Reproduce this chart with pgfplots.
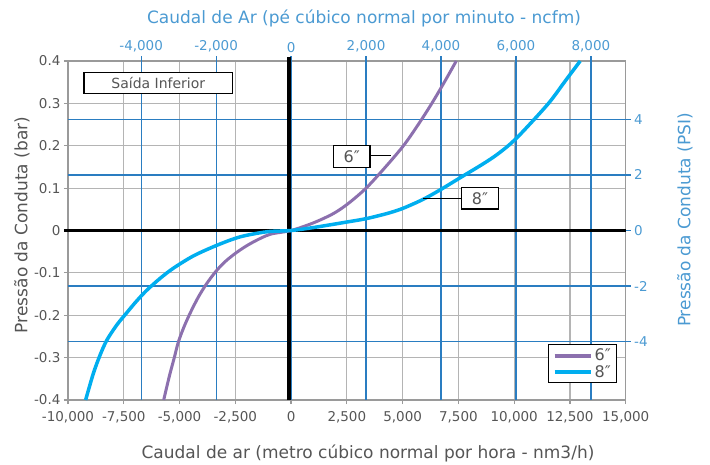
\documentclass[border=0pt]{standalone}
\usepackage{fontspec}
\setmainfont{DejaVu Sans}
\usepackage{pgfplots}
\pgfplotsset{compat=1.18}
\definecolor{gridgray}{HTML}{B4B4B4}
\definecolor{framegray}{HTML}{9A9A9A}
\definecolor{gridblue}{HTML}{2A7DC1}
\definecolor{lblblue}{HTML}{4B9AD2}
\definecolor{sixc}{HTML}{8C70AE}
\definecolor{eightc}{HTML}{00AEEF}
\definecolor{txtgray}{HTML}{555555}
\pgfplotsset{
  common/.style={scale only axis, width=557.7pt, height=339pt, at={(0,0)}, anchor=south west,
    /pgf/number format/assume math mode=true, scaled x ticks=false, scaled y ticks=false},
}
\newcommand{\tfont}{\fontsize{13.5}{15}\selectfont}
\newcommand{\lfont}{\fontsize{17}{19}\selectfont}
\begin{document}
\begin{tikzpicture}[x=1pt,y=1pt]
\useasboundingbox (-68,-64) rectangle (642,400);
% main axis: gray grid and frame
\begin{axis}[common,
  xmin=-10000, xmax=15000, ymin=-0.4, ymax=0.4,
  xtick={-10000,-7500,-5000,-2500,0,2500,5000,7500,10000,12500,15000},
  ytick={-0.4,-0.3,-0.2,-0.1,0,0.1,0.2,0.3,0.4},
  xtick pos=left, ytick pos=left,
  xticklabel style={/pgf/number format/1000 sep={,}, font=\tfont, text=txtgray, yshift=-4pt},
  yticklabel style={/pgf/number format/fixed, /pgf/number format/precision=1, font=\tfont, text=txtgray},
  grid=major, major grid style={gridgray, line width=1.2pt},
  axis line style={framegray, line width=1.2pt},
  tick align=outside, major tick length=4pt, tick style={framegray, line width=1.2pt},
]
\end{axis}
% secondary axis: blue grid, top and right scales
\begin{axis}[common,
  xmin=-5952.4, xmax=8928.6, ymin=-6.1, ymax=6.1,
  axis x line*=top, axis y line*=right,
  axis line style={draw=none},
  xtick={-4000,-2000,0,2000,4000,6000,8000},
  ytick={-4,-2,0,2,4},
  xticklabel style={/pgf/number format/1000 sep={,}, font=\tfont, text=lblblue},
  yticklabel style={font=\tfont, text=lblblue},
  grid=major, major grid style={gridblue, line width=1.2pt},
  tick align=outside, major tick length=5pt, tick style={gridblue, line width=1.2pt},
]
\end{axis}
% curves
\begin{axis}[common, hide axis, clip=false,
  xmin=-10000, xmax=15000, ymin=-0.4, ymax=0.4,
  legend style={at={(axis cs:14623,-0.2686)}, anchor=north east, draw=black, line width=1pt,
    font=\fontsize{16}{18}\selectfont, text=txtgray, inner xsep=4pt, inner ysep=2pt, row sep=-1pt, fill=white},
  legend cell align=left,
  legend image code/.code={\draw[#1, line width=4pt] (0pt,0pt) -- (36pt,0pt);},
]
\draw[black, line width=3.5pt] (axis cs:-10180,0) -- (axis cs:15000,0);
\draw[black, line width=3.5pt] (axis cs:-100,-0.4) -- (axis cs:-100,0.41);
\addplot[sixc, line width=3pt, smooth] coordinates {
(-5710,-0.4) (-5572,-0.369) (-5424,-0.337) (-5245,-0.302) (-5052,-0.263)
(-4797,-0.227) (-4497,-0.192) (-4156,-0.157) (-3779,-0.125) (-3331,-0.094)
(-2882,-0.070) (-2286,-0.046) (-1690,-0.027) (-941,-0.009) (0,0)
(1000,0.018) (1898,0.040) (2570,0.064) (3363,0.1) (4200,0.148)
(5036,0.2) (5700,0.25) (6309,0.3) (6870,0.35) (7404,0.4)
};
\addlegendentry{6″}
\addplot[eightc, line width=3.5pt, smooth] coordinates {
(-9210,-0.4) (-8862,-0.337) (-8562,-0.294) (-8262,-0.259) (-7813,-0.223)
(-7365,-0.194) (-6917,-0.166) (-6469,-0.141) (-5872,-0.113) (-5276,-0.089)
(-4380,-0.060) (-3331,-0.035) (-2286,-0.015) (-1090,-0.003) (0,0)
(1000,0.007) (2500,0.020) (3366,0.028) (4294,0.040) (5000,0.052)
(5937,0.074) (6750,0.098) (7500,0.122) (8600,0.157) (9200,0.178)
(9800,0.203) (10400,0.234) (11540,0.3) (12250,0.35) (12960,0.4)
};
\addlegendentry{8″}
% annotations
\draw[black, line width=1pt] (axis cs:3538,0.176) -- (axis cs:4479,0.176);
\draw[black, line width=1pt] (axis cs:5914,0.076) -- (axis cs:8469,0.076);
\node[draw=black, line width=1.2pt, fill=white, minimum width=148.7pt, minimum height=21.7pt,
  inner sep=0pt, font=\fontsize{14}{16}\selectfont, text=txtgray] at (axis cs:-5952,0.348) {Saída Inferior};
\node[draw=black, line width=1.2pt, fill=white, minimum width=36.7pt, minimum height=21.6pt,
  inner sep=0pt, font=\fontsize{16}{18}\selectfont, text=txtgray] at (axis cs:2717,0.1746) {6″};
\node[draw=black, line width=1.2pt, fill=white, minimum width=36.6pt, minimum height=21.3pt,
  inner sep=0pt, font=\fontsize{16}{18}\selectfont, text=txtgray] at (axis cs:8469,0.076) {8″};
\end{axis}
% axis titles
\node[font=\lfont, text=txtgray] at (300,-53) {Caudal de ar (metro cúbico normal por hora - nm3/h)};
\node[font=\lfont, text=lblblue] at (296,382) {Caudal de Ar (pé cúbico normal por minuto - ncfm)};
\node[font=\lfont, text=txtgray, rotate=90] at (-46,175) {Pressão da Conduta (bar)};
\node[font=\lfont, text=lblblue, rotate=90] at (617,180) {Pressão da Conduta (PSI)};
\end{tikzpicture}
\end{document}
